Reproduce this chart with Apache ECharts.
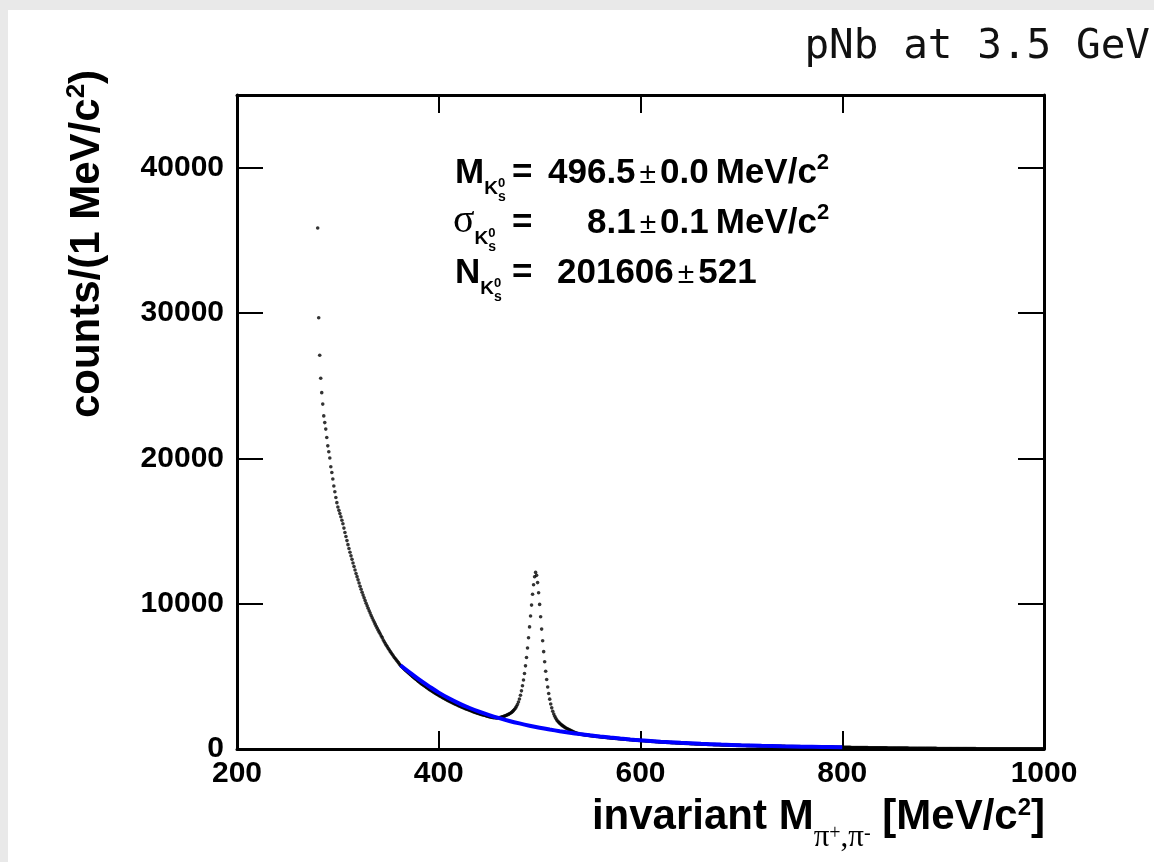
<!DOCTYPE html>
<html>
<head>
<meta charset="utf-8">
<title>pNb at 3.5 GeV</title>
<script src="https://cdn.jsdelivr.net/npm/echarts@6/dist/echarts.min.js"></script>
<style>
html,body{margin:0;padding:0;background:#e9e9e9;overflow:hidden;}
#chart{width:1154px;height:862px;}
</style>
</head>
<body>
<div id="chart"></div>
<script>
// ---------------- data ----------------
const chartTitle = 'pNb at 3.5 GeV';
const binStart = 280;            // first bin, MeV/c^2 (1 MeV/c^2 bins)
// counts per 1 MeV/c^2 bin, 280..359
const countsThreshold = [
35850,29670,27090,25510,24520,23730,22920,22460,22010,21430,20860,20450,20020,19420,19030,18580,18100,17700,17300,16950,
16650,16420,16200,15980,15740,15500,15200,14900,14620,14340,14060,13800,13540,13290,13050,12800,12560,12320,12080,11860,
11640,11420,11200,10990,10790,10590,10400,10210,10030,9850,9680,9510,9350,9190,9030,8880,8730,8590,8450,8310,
8170,8040,7910,7780,7660,7500,7380,7260,7140,7030,6920,6810,6700,6600,6500,6400,6300,6210,6120,6030
];
// 360..459
const countsBackground = [
5940,5850,5760,5690,5620,5550,5480,5420,5350,5290,5230,5170,5110,5050,4990,4930,4870,4810,4760,4700,
4640,4590,4530,4480,4430,4380,4330,4280,4230,4180,4130,4080,4040,3990,3950,3900,3860,3820,3770,3730,
3690,3650,3610,3570,3530,3490,3450,3420,3380,3340,3310,3270,3240,3200,3170,3130,3100,3070,3040,3000,
2970,2940,2910,2880,2850,2820,2790,2760,2730,2710,2680,2650,2630,2600,2570,2550,2520,2500,2470,2450,
2430,2400,2380,2360,2340,2320,2300,2280,2260,2240,2220,2200,2190,2170,2160,2150,2150,2140,2140,2150
];
// 460..539 (K0s peak)
const countsPeak = [
2160,2170,2190,2210,2230,2260,2290,2320,2350,2380,2420,2460,2510,2570,2640,2720,2810,2920,3060,3230,
3440,3700,4000,4350,4750,5200,5720,6300,6950,7650,8400,9150,9900,10650,11300,11850,12150,11950,11450,10750,
9950,9100,8250,7450,6700,6000,5350,4780,4270,3820,3430,3100,2830,2600,2410,2250,2110,2000,1910,1830,
1760,1700,1640,1590,1540,1490,1450,1410,1370,1335,1300,1265,1230,1195,1165,1135,1110,1085,1060,1040
];
// 540..999
const countsTail = [
1020,1010,1000,990,980,970,960,950,940,930,920,912,904,896,888,880,872,864,856,848,
840,832,824,816,808,800,793,786,779,772,765,758,751,744,737,730,724,718,712,706,
700,694,688,682,676,670,664,658,652,646,640,634,628,622,616,610,605,600,595,590,
585,580,575,569,564,558,553,547,542,537,532,527,522,517,512,507,502,497,492,487,
482,478,474,470,466,462,458,454,450,446,442,438,434,430,426,422,418,414,410,406,
402,399,395,392,388,385,381,378,374,371,367,364,361,358,354,351,348,345,342,339,
336,333,330,327,325,322,319,316,314,311,308,306,303,301,298,296,293,291,289,286,
284,282,280,277,275,273,271,269,267,264,262,260,258,256,254,252,250,248,247,245,
243,241,239,237,236,234,232,230,229,227,225,224,222,220,219,217,216,214,213,211,
210,208,207,205,204,202,201,199,198,197,195,194,192,191,190,188,187,186,184,183,
182,180,179,178,177,175,174,173,172,171,169,168,167,166,165,164,163,161,160,159,
158,157,156,155,154,153,152,151,150,149,148,146,145,144,143,142,141,140,139,138,
137,136,135,134,133,132,131,130,129,128,127,126,125,124,123,122,121,120,119,118,
117,116,115,114,113,112,111,110,109,108,107,106,105,104,103,102,101,100,99,98,
97,96,95,94,93,92,91,90,89,88,87,86,85,84,83,82,81,80,79,78,
77,76,75,74,74,73,72,71,70,69,69,68,67,66,65,65,64,63,62,62,
61,60,59,59,58,57,56,56,55,54,54,53,52,52,51,50,50,49,48,48,
47,47,46,45,45,44,44,43,42,42,41,41,40,40,39,39,38,38,37,37,
36,36,35,35,34,34,33,33,32,32,31,31,31,30,30,29,29,28,28,28,
27,27,26,26,26,25,25,24,24,24,23,23,23,22,22,22,21,21,21,20,
20,20,19,19,19,18,18,18,18,17,17,17,16,16,16,16,15,15,15,15,
14,14,14,14,13,13,13,13,12,12,12,12,12,11,11,11,11,10,10,10,
10,10,9,9,9,9,9,8,8,8,8,8,8,7,7,7,7,7,7,6
];
// background fit curve (blue)
const fitMass   = [362,370,380,390,400,410,420,430,440,450,460,470,480,490,500,510,520,530,540,550,560,570,580,590,600,620,640,660,680,700,720,740,760,780,800];
const fitCounts = [5765,5330,4800,4330,3880,3490,3140,2840,2570,2330,2120,1930,1760,1605,1465,1340,1225,1120,1025,940,860,785,718,655,600,505,425,360,305,260,222,190,163,138,117];
// axes
const xTicks = [200,400,600,800,1000];
const yTicks = [0,10000,20000,30000,40000];
const yMax = 45000;
// fit results text
const massValue = '496.5', massErr = '0.0';
const sigmaValue = '8.1', sigmaErr = '0.1';
const yieldValue = '201606', yieldErr = '521';

// ---------------- chart ----------------
const SANS = "'Liberation Sans', Arial, Helvetica, sans-serif";
const SERIF = "'Liberation Serif', 'Times New Roman', serif";
const MONO = "'DejaVu Sans Mono', monospace";

const allCounts = countsThreshold.concat(countsBackground, countsPeak, countsTail);
const histData = allCounts.map((c, i) => [binStart + i, c]);
const fitData = fitMass.map((m, i) => [m, fitCounts[i]]);

const ANN = 35;
const mctx = document.createElement('canvas').getContext('2d');
function fontOf(p){ return (p.w || 'bold') + ' ' + (p.size || ANN) + 'px ' + (p.fam || SANS); }
function tw(p){ mctx.font = fontOf(p); return mctx.measureText(p.t).width; }
function mk(x, base, p){
  const size = p.size || ANN;
  return {type:'text', x:x, y: base - 0.345*size, z:100,
    style:{text:p.t, font:fontOf(p), fill:'#000', textAlign:'left', textVerticalAlign:'middle'}};
}
function buildLine(base, segs){
  const out = []; let x = 0;
  segs.forEach(s => {
    if (s.x != null) x = s.x; else x += (s.gap || 0);
    if (s.stack){
      let wmax = 0;
      s.stack.forEach(p => { out.push(mk(x, base + (p.dy||0), p)); wmax = Math.max(wmax, tw(p)); });
      x += wmax;
    } else {
      out.push(mk(x, base + (s.dy||0), s)); x += tw(s);
    }
  });
  return out;
}
const kSub = [{t:'K', size:19, dy:10}, {stack:[{t:'0', size:13, dy:3}, {t:'s', size:14, dy:17}]}];
const pm = {t:'\u00b1', w:'normal', size:30, gap:4};
const unit = [{t:'MeV/c', gap:7}, {t:'2', size:22, dy:-14}];
const line1 = buildLine(185, [{t:'M', x:455}].concat(kSub, [
  {t:'=', x:512}, {t:massValue, x:548}, pm, {t:massErr, gap:4}], unit));
const line2 = buildLine(235, [{t:'\u03c3', w:'normal', fam:SERIF, size:40, x:453}].concat(kSub, [
  {t:'=', x:512}, {t:sigmaValue, x:587}, pm, {t:sigmaErr, gap:4}], unit));
const line3 = buildLine(285, [{t:'N', x:455}].concat(kSub, [
  {t:'=', x:512}, {t:yieldValue, x:557}, pm, {t:yieldErr, gap:4}]));

const axisCommon = {
  type:'value', splitLine:{show:false},
  axisLine:{show:true, onZero:false, lineStyle:{color:'#000', width:3}},
};
const plain = v => String(v);
const labelStyle = {fontSize:30, fontWeight:'bold', fontFamily:SANS, color:'#000', formatter:plain};
const xStep = xTicks[1]-xTicks[0], yStep = yTicks[1]-yTicks[0];

const option = {
  animation:false,
  backgroundColor:'#e9e9e9',
  grid:{left:237, right:110, top:95, bottom:113, containLabel:false, outerBoundsMode:'none'},
  xAxis:[
    Object.assign({}, axisCommon, {position:'bottom', min:xTicks[0], max:xTicks[xTicks.length-1], interval:xStep,
      axisTick:{show:true, inside:true, length:18, lineStyle:{color:'#000', width:2}},
      axisLabel:Object.assign({show:true, margin:10}, labelStyle)}),
    Object.assign({}, axisCommon, {position:'top', min:xTicks[0], max:xTicks[xTicks.length-1], interval:xStep,
      axisTick:{show:true, inside:true, length:18, lineStyle:{color:'#000', width:2}},
      axisLabel:{show:false}})
  ],
  yAxis:[
    Object.assign({}, axisCommon, {position:'left', min:yTicks[0], max:yMax, interval:yStep,
      axisTick:{show:true, inside:true, length:26, lineStyle:{color:'#000', width:2}},
      axisLabel:Object.assign({show:true, margin:13, showMaxLabel:false}, labelStyle)}),
    Object.assign({}, axisCommon, {position:'right', min:yTicks[0], max:yMax, interval:yStep,
      axisTick:{show:true, inside:true, length:26, lineStyle:{color:'#000', width:2}},
      axisLabel:{show:false}})
  ],
  series:[
    {type:'scatter', xAxisIndex:0, yAxisIndex:0, data:histData, symbol:'circle', symbolSize:3.6,
     itemStyle:{color:'#000'}, z:3, silent:true},
    {type:'line', xAxisIndex:0, yAxisIndex:0, data:fitData, smooth:0.4, showSymbol:false, symbol:'none',
     lineStyle:{color:'#0000ff', width:4}, z:4, silent:true}
  ],
  graphic:[
    {type:'rect', z:-100, shape:{x:8, y:10, width:1146, height:852}, style:{fill:'#ffffff'}},
    {type:'text', x:1150, y:47, z:100, style:{text:chartTitle, font:'41px ' + MONO, fill:'#111', textAlign:'right', textVerticalAlign:'middle'}},
    {type:'text', x:87.5, y:244, rotation:Math.PI/2, z:100,
     style:{text:'{a|counts/(1 MeV/c}{s|2}{a|)}', textAlign:'center', textVerticalAlign:'middle',
       rich:{a:{fontSize:42, fontWeight:'bold', fontFamily:SANS, lineHeight:50, fill:'#000'},
             s:{fontSize:26, fontWeight:'bold', fontFamily:SANS, height:29, verticalAlign:'top', fill:'#000'}}}},
    {type:'text', x:1045, y:817.5, z:100,
     style:{text:'{a|invariant M}{p|\u03c0}{q|+}{p|,\u03c0}{q|-}{a| [MeV/c}{s|2}{a|]}', textAlign:'right', textVerticalAlign:'middle',
       rich:{a:{fontSize:42, fontWeight:'bold', fontFamily:SANS, lineHeight:60, fill:'#000'},
             p:{fontSize:31, fontWeight:'normal', fontFamily:SERIF, height:20, verticalAlign:'bottom', fill:'#000'},
             q:{fontSize:20, fontWeight:'normal', fontFamily:SERIF, height:27, verticalAlign:'bottom', fill:'#000'},
             s:{fontSize:24, fontWeight:'bold', fontFamily:SANS, height:41, verticalAlign:'top', fill:'#000'}}}}
  ].concat(line1, line2, line3)
};

const chart = echarts.init(document.getElementById('chart'), null, {renderer:'canvas'});
chart.setOption(option);
</script>
</body>
</html>
